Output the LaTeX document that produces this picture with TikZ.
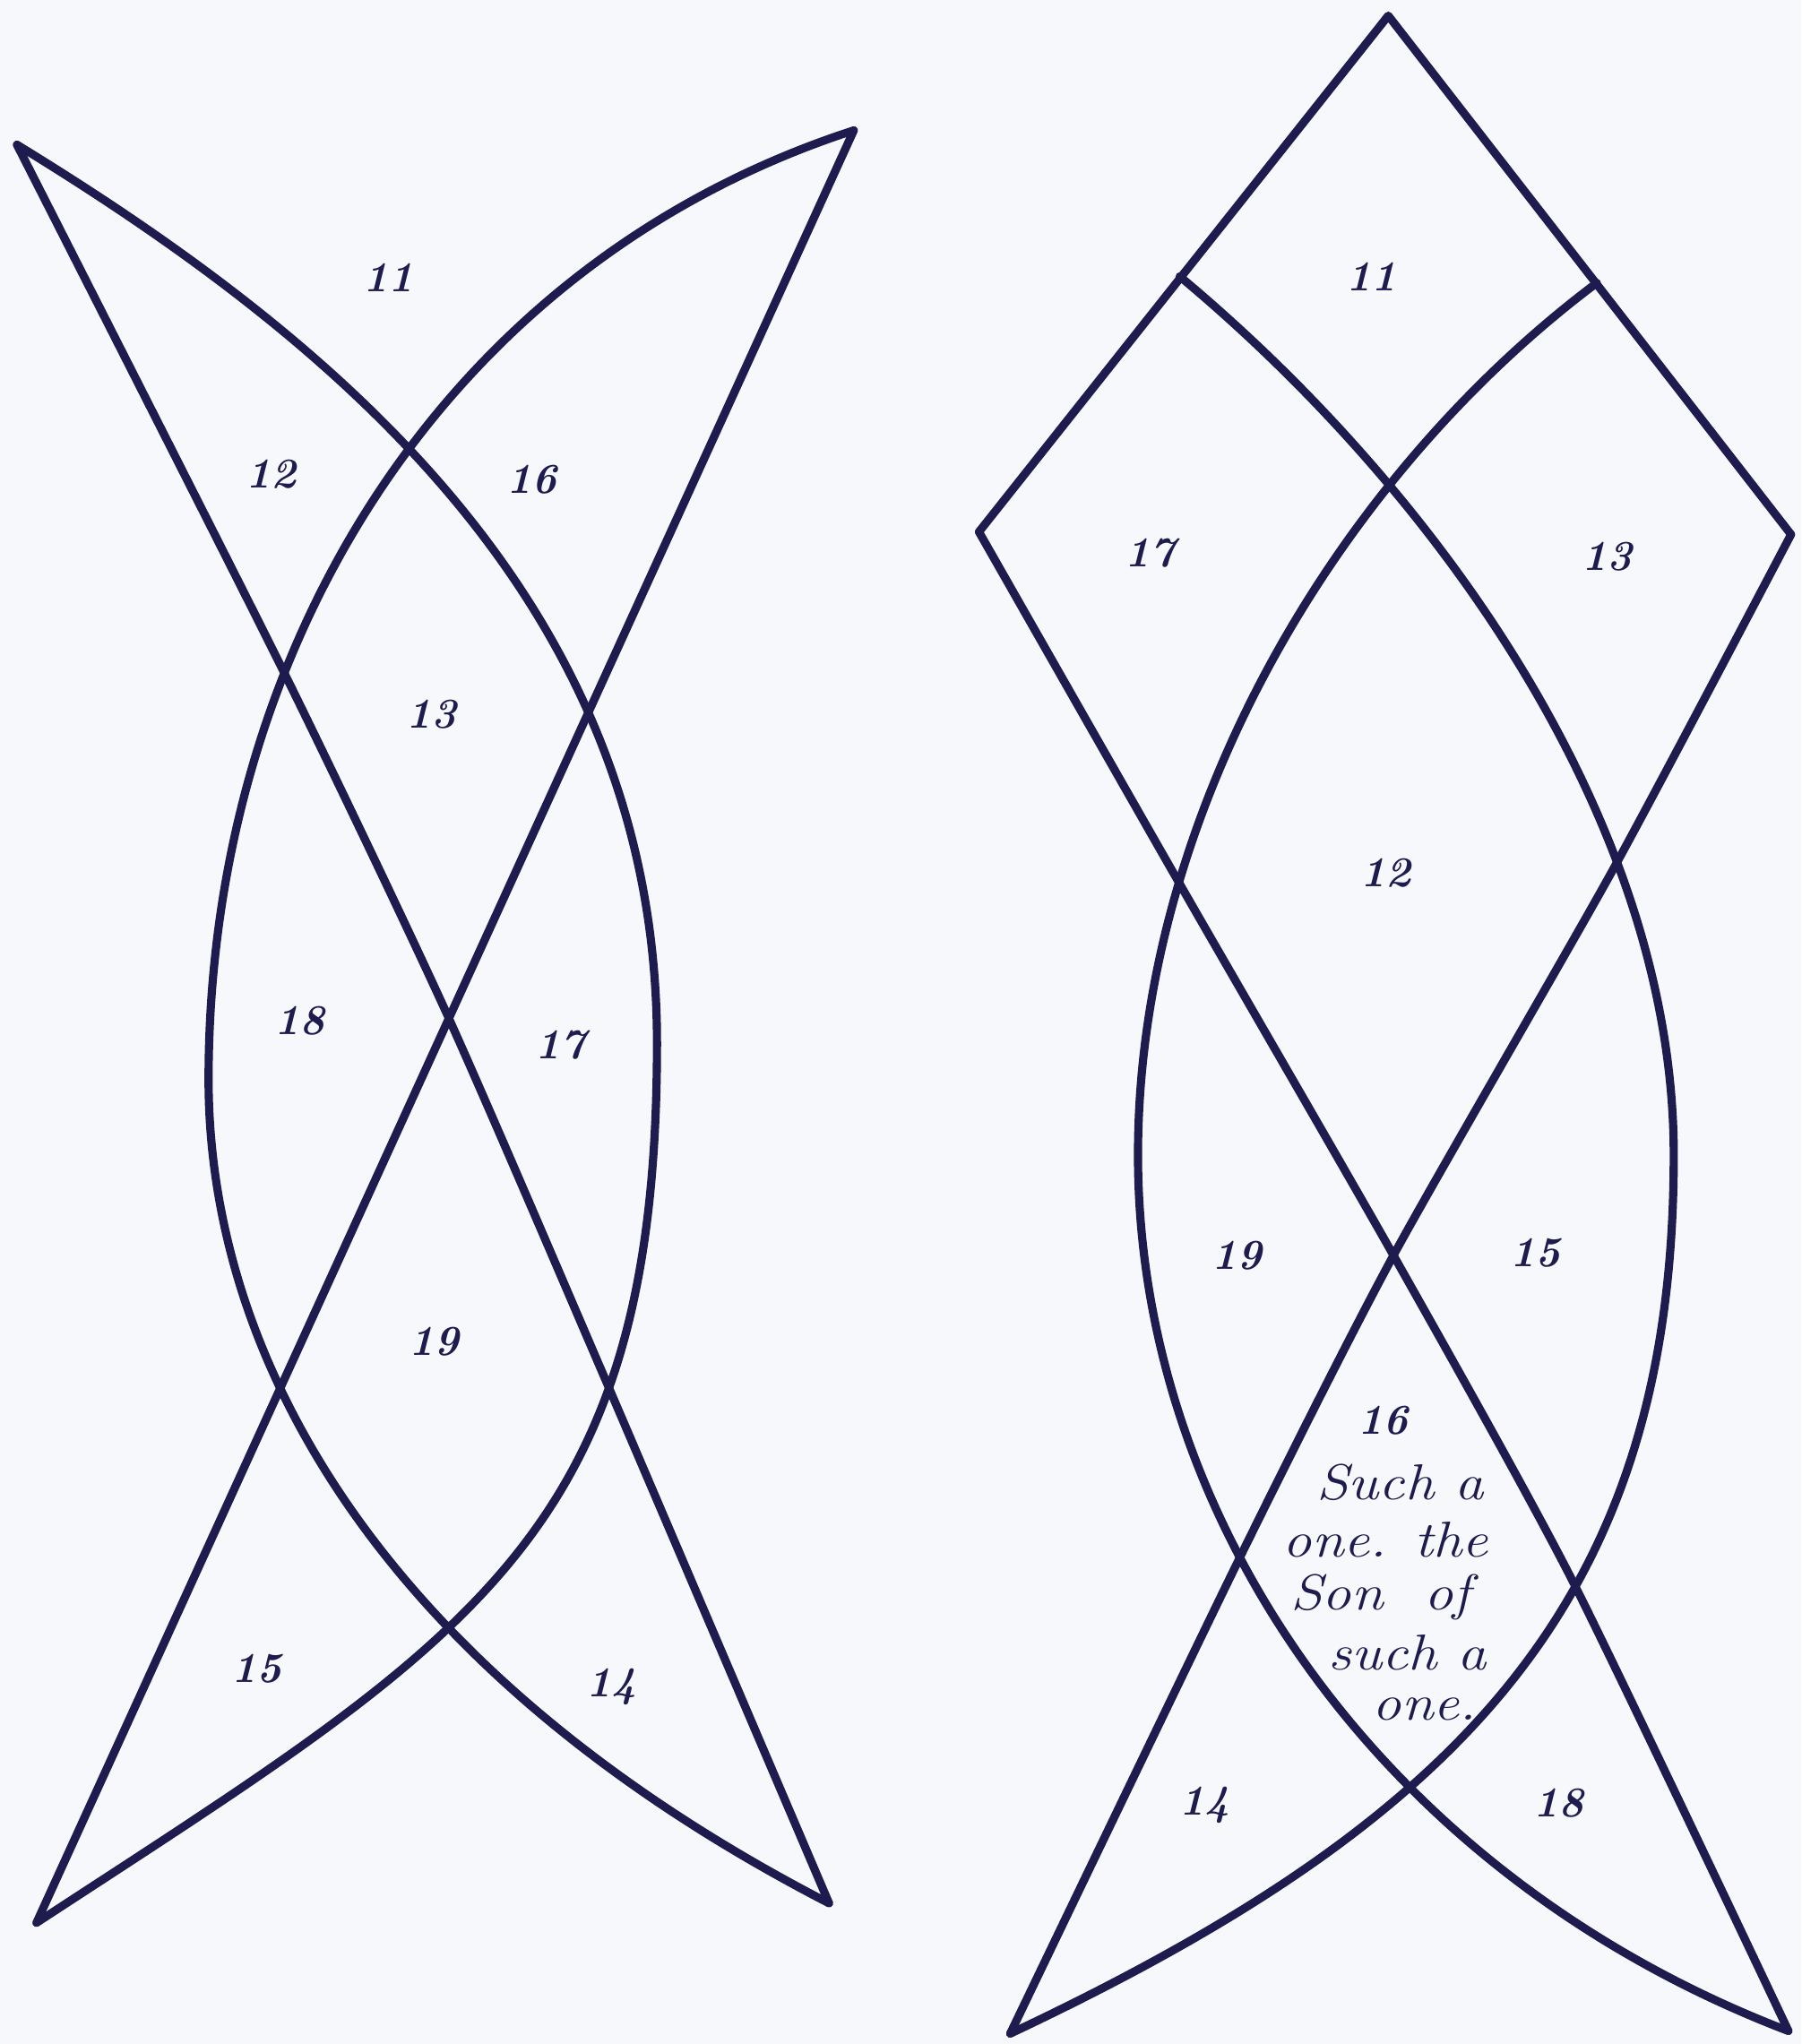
\documentclass[tikz,border=0pt]{standalone}
\usetikzlibrary{calc}
\definecolor{ink}{RGB}{30,28,78}
\definecolor{paper}{RGB}{247,248,252}
\newcommand{\handtext}[1]{\scalebox{1.15}[1]{#1}}
\tikzset{
  fig/.style={draw=ink, line width=2.6pt, line cap=round, line join=round},
  curve/.style={fig, smooth, tension=0.4},
  num/.style={text=ink, inner sep=0pt, font=\bfseries\itshape\fontsize{13.5}{15}\selectfont},
  hand/.style={text=ink, inner sep=0pt, font=\itshape\fontsize{16}{18}\selectfont},
}

\begin{document}
\begin{tikzpicture}[x=0.14544mm, y=-0.14544mm]
\fill[paper] (0,0) rectangle (1382,1568);
\useasboundingbox (0,0) rectangle (1382,1568);

% left figure
\coordinate (lTL) at (13,111);
\coordinate (lTR) at (655,100);
\coordinate (lBL) at (28,1475);
\coordinate (lBR) at (636,1460);
\coordinate (lMid) at (342,776);
\coordinate (lL1) at (217,514);
\coordinate (lR2) at (463,1055);
\coordinate (lEast) at (504,800);
\coordinate (lWest) at (160,828);

\draw[curve] plot coordinates {(lTL) (lL1) (lMid) (lR2) (lBR)};
\draw[fig] (lTR) -- (lBL);
\draw[fig] (lTL) .. controls (268,267) and (504,470) .. (lEast)
                 .. controls (504,1180) and (363,1256) .. (lBL);
\draw[fig] (lTR) .. controls (341,202) and (160,498) .. (lWest)
                 .. controls (160,1048) and (299,1286) .. (lBR);

\node[num] (l11) at (298,213) {11};
\node[num] (l12) at (208,364) {12};
\node[num] (l16) at (408,368) {16};
\node[num] (l13) at (331,548) {13};
\node[num] (l18) at (230,783) {18};
\node[num] (l17) at (430,802) {17};
\node[num] (l19) at (333,1029) {19};
\node[num] (l15) at (197,1280) {15};
\node[num] (l14) at (469,1294) {14};

% right figure
\coordinate (rApex) at (1065,12);
\coordinate (rUL) at (905,212);
\coordinate (rUR) at (1225,217);
\coordinate (rL) at (751,408);
\coordinate (rR) at (1374,410);
\coordinate (rMid) at (1069,963);
\coordinate (rL1) at (905,678);
\coordinate (rR1) at (1238,666);
\coordinate (rL2) at (953,1191);
\coordinate (rR2) at (1206,1212);
\coordinate (rBL) at (775,1560);
\coordinate (rBR) at (1372,1558);
\coordinate (rEast) at (1284,886);
\coordinate (rWest) at (873,886);

\draw[fig] (rL) -- (rApex) -- (rR);
\draw[curve] plot coordinates {(rL) (rL1) (rMid) (rR2) (rBR)};
\draw[curve] plot coordinates {(rR) (rR1) (rMid) (rL2) (rBL)};
\draw[fig] (rUL) .. controls (1097,372) and (1284,626) .. (rEast)
                 .. controls (1284,1225) and (1125,1395) .. (rBL);
\draw[fig] (rUR) .. controls (1025,367) and (873,626) .. (rWest)
                 .. controls (873,1168) and (1063,1440) .. (rBR);

\node[num] (r11) at (1052,212) {11};
\node[num] (r17) at (882,424) {17};
\node[num] (r13) at (1233,427) {13};
\node[num] (r12) at (1063,670) {12};
\node[num] (r19) at (949,963) {19};
\node[num] (r15) at (1178,961) {15};
\node[num] (r16) at (1061,1090) {16};
\node[hand] (txt1) at (1074,1137) {\handtext{Such a}};
\node[hand] (txt2) at (1063,1181) {\handtext{one. the}};
\node[hand] (txt3) at (1059,1225) {\handtext{Son\ \ of}};
\node[hand] (txt4) at (1080,1268) {\handtext{such a}};
\node[hand] (txt5) at (1093,1311) {\handtext{one.}};
\node[num] (r14) at (924,1385) {14};
\node[num] (r18) at (1196,1383) {18};

\end{tikzpicture}
\end{document}
